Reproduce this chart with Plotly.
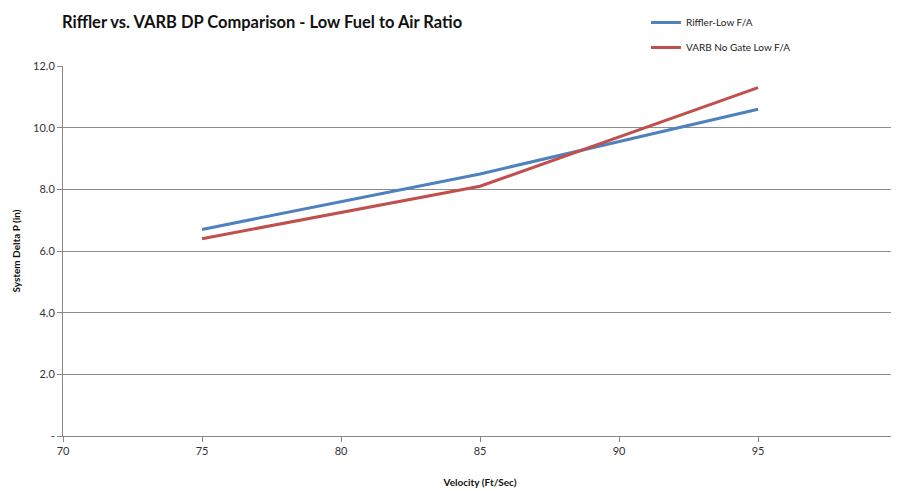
import plotly.graph_objects as go

velocity = [75, 85, 95]
riffler_low = [6.7, 8.5, 10.6]
varb_no_gate_low = [6.4, 8.1, 11.3]

y_tickvals = [0, 2, 4, 6, 8, 10, 12]
y_ticktext = ["-", "2.0", "4.0", "6.0", "8.0", "10.0", "12.0"]
x_tickvals = [70, 75, 80, 85, 90, 95, 100]
x_ticktext = ["70", "75", "80", "85", "90", "95", "100"]

font_main = "Lato, Open Sans, sans-serif"

fig = go.Figure()
fig.add_trace(go.Scatter(x=velocity, y=riffler_low, mode="lines", name="Riffler-Low F/A",
                         legendgroup="a", line=dict(color="#4F81BD", width=3)))
fig.add_trace(go.Scatter(x=velocity, y=varb_no_gate_low, mode="lines", name="VARB No Gate Low F/A",
                         legendgroup="b", line=dict(color="#C0504D", width=3)))

fig.update_layout(
    width=891, height=483,
    margin=dict(l=55, r=2, t=58, b=55),
    paper_bgcolor="white", plot_bgcolor="white",
    font=dict(family=font_main, color="#222"),
    legend=dict(x=0.699, y=1.0, xanchor="left", yanchor="top", yref="container",
                font=dict(size=10, color="#222"), traceorder="grouped", tracegroupgap=6,
                bgcolor="rgba(0,0,0,0)", itemwidth=30),
    showlegend=True,
)
fig.add_annotation(text="<b>Riffler vs. VARB DP Comparison - Low Fuel to Air Ratio</b>",
                   xref="paper", yref="paper", x=-0.004, y=1 + (58 - 14) / 370,
                   xanchor="left", yanchor="middle", showarrow=False,
                   font=dict(size=16.5, color="#111", family=font_main))
fig.update_xaxes(range=[70, 100], tickvals=x_tickvals, ticktext=x_ticktext,
                 showline=True, linecolor="#888", linewidth=1,
                 ticks="outside", tickcolor="#888", ticklen=5,
                 showgrid=False, zeroline=False,
                 tickfont=dict(size=11, color="#333"), automargin=False,
                 title=dict(text="<b>Velocity (Ft/Sec)</b>", font=dict(size=10, color="#111"), standoff=22))
fig.update_yaxes(range=[0, 12], tickvals=y_tickvals, ticktext=y_ticktext,
                 showline=True, linecolor="#888", linewidth=1,
                 ticks="outside", tickcolor="#888", ticklen=5,
                 showgrid=True, gridcolor="#8c8c8c", gridwidth=1, zeroline=False,
                 tickfont=dict(size=11, color="#333"), automargin=False,
                 title=dict(text="<b>System Delta P (in)</b>", font=dict(size=10, color="#111"), standoff=10))

fig.write_html("out.html")
